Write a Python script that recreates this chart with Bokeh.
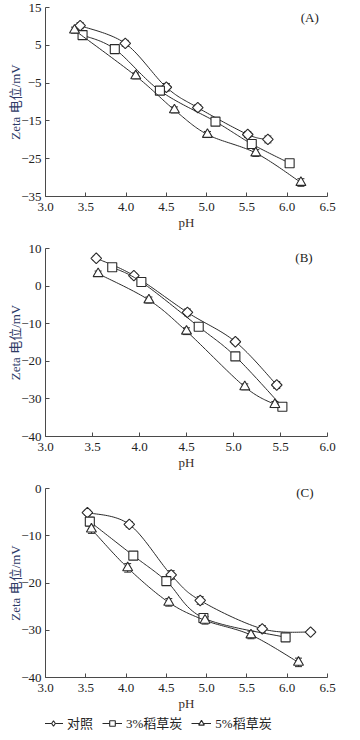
from bokeh.plotting import figure
from bokeh.layouts import column
from bokeh.models import (FixedTicker, Label, Legend, LegendItem, Whisker,
                          ColumnDataSource, TeeHead, Range1d, PrintfTickFormatter)
from bokeh.embed import file_html
from bokeh.resources import INLINE

# ---------------- data ----------------
series_names = ["对照", "3%稻草炭", "5%稻草炭"]
panel_tags = ["(A)", "(B)", "(C)"]

A_ctrl_x = [3.43, 3.99, 4.50, 4.89, 5.51, 5.76]
A_ctrl_y = [10.2, 5.5, -6.1, -11.5, -18.6, -19.9]
A_ctrl_e = [0.8, 0.8, 1.0, 0.8, 0.8, 0.9]
A_3_x = [3.46, 3.86, 4.42, 5.11, 5.56, 6.03]
A_3_y = [7.7, 4.0, -7.0, -15.2, -21.1, -26.2]
A_3_e = [0.6, 0.6, 0.8, 0.8, 1.0, 0.7]
A_5_x = [3.36, 4.12, 4.60, 5.01, 5.61, 6.17]
A_5_y = [9.0, -3.1, -12.1, -18.6, -23.5, -31.3]
A_5_e = [0.8, 0.8, 0.8, 0.8, 0.9, 1.0]

B_ctrl_x = [3.54, 3.94, 4.51, 5.02, 5.46]
B_ctrl_y = [7.4, 2.8, -7.0, -14.8, -26.3]
B_ctrl_e = [0.6, 0.6, 0.9, 0.7, 0.9]
B_3_x = [3.71, 4.02, 4.63, 5.02, 5.52]
B_3_y = [5.0, 1.1, -10.8, -18.7, -32.1]
B_3_e = [0.6, 0.8, 0.8, 0.8, 0.7]
B_5_x = [3.56, 4.10, 4.50, 5.12, 5.44]
B_5_y = [3.3, -3.7, -12.0, -26.8, -31.5]
B_5_e = [0.7, 0.8, 0.9, 0.8, 0.8]

C_ctrl_x = [3.52, 4.04, 4.56, 4.92, 5.69, 6.29]
C_ctrl_y = [-5.1, -7.6, -18.3, -23.7, -29.7, -30.4]
C_ctrl_e = [0.5, 0.6, 0.9, 0.8, 0.7, 0.5]
C_3_x = [3.55, 4.09, 4.50, 4.96, 5.98]
C_3_y = [-7.0, -14.2, -19.6, -27.4, -31.5]
C_3_e = [0.9, 0.7, 0.8, 0.8, 0.6]
C_5_x = [3.57, 4.02, 4.53, 4.98, 5.55, 6.14]
C_5_y = [-8.6, -16.8, -24.1, -27.9, -31.0, -36.8]
C_5_e = [0.9, 0.9, 0.8, 0.8, 0.8, 0.9]

x_ticks_A = [3.0, 3.5, 4.0, 4.5, 5.0, 5.5, 6.0, 6.5]
x_ticks_B = [3.0, 3.5, 4.0, 4.5, 5.0, 5.5, 6.0]
x_ticks_C = [3.0, 3.5, 4.0, 4.5, 5.0, 5.5, 6.0, 6.5]
y_ticks_A = [15, 5, -5, -15, -25, -35]
y_labels_A = ["15", "5", "\u22125", "\u221215", "\u221225", "\u221235"]
y_ticks_B = [10, 0, -10, -20, -30, -40]
y_labels_B = ["10", "0", "\u221210", "\u221220", "\u221230", "\u221240"]
y_ticks_C = [0, -10, -20, -30, -40]
y_labels_C = ["0", "\u221210", "\u221220", "\u221230", "\u221240"]

# ---------------- style ----------------
SERIF = "Liberation Serif"
CJK = "Liberation Serif, Noto Sans CJK SC"
INK = "#2a2a2a"
AX = "#4a4a4a"
LABEL_COL = "#2e3a66"
markers = ["square", "square", "triangle"]      # control = square turned 45 deg (diamond)
mangles = [0.785398, 0.0, 0.0]
msizes = [7.5, 9, 10]
legend_markers = ["diamond", "square", "triangle"]
legend_sizes = [12, 9, 10]


def smooth(xs, ys, xr, yr, n=24):
    """Catmull-Rom curve through the data points (in normalized space)."""
    sx = [(x - xr[0]) / (xr[1] - xr[0]) for x in xs]
    sy = [(y - yr[0]) / (yr[1] - yr[0]) for y in ys]
    pts = list(zip(sx, sy))
    P = [pts[0]] + pts + [pts[-1]]
    ox, oy = [], []
    for i in range(1, len(P) - 2):
        p0, p1, p2, p3 = P[i - 1], P[i], P[i + 1], P[i + 2]
        for k in range(n):
            t = k / n
            t2, t3 = t * t, t * t * t
            cx = 0.5 * ((2 * p1[0]) + (-p0[0] + p2[0]) * t +
                        (2 * p0[0] - 5 * p1[0] + 4 * p2[0] - p3[0]) * t2 +
                        (-p0[0] + 3 * p1[0] - 3 * p2[0] + p3[0]) * t3)
            cy = 0.5 * ((2 * p1[1]) + (-p0[1] + p2[1]) * t +
                        (2 * p0[1] - 5 * p1[1] + 4 * p2[1] - p3[1]) * t2 +
                        (-p0[1] + 3 * p1[1] - 3 * p2[1] + p3[1]) * t3)
            ox.append(cx)
            oy.append(cy)
    ox.append(pts[-1][0])
    oy.append(pts[-1][1])
    return ([xr[0] + v * (xr[1] - xr[0]) for v in ox],
            [yr[0] + v * (yr[1] - yr[0]) for v in oy])


def make_panel(height, btop, xr, yr, xt, yt, ylab, series, tag, tagpos):
    p = figure(width=344, height=height, x_range=Range1d(*xr), y_range=Range1d(*yr),
               output_backend="svg", toolbar_location=None,
               min_border_left=45, min_border_right=17,
               min_border_top=btop, min_border_bottom=0)
    p.outline_line_color = None
    p.xgrid.visible = False
    p.ygrid.visible = False
    p.background_fill_color = "white"
    p.border_fill_color = "white"
    for ax in (p.xaxis[0], p.yaxis[0]):
        ax.axis_line_color = AX
        ax.major_tick_line_color = AX
        ax.major_tick_in = 4
        ax.major_tick_out = 0
        ax.minor_tick_line_color = None
        ax.major_label_text_font = SERIF
        ax.major_label_text_font_size = "13px"
        ax.major_label_text_color = "#222222"
        ax.axis_label_text_font_style = "normal"
    p.xaxis.ticker = FixedTicker(ticks=xt)
    p.xaxis.formatter = PrintfTickFormatter(format="%.1f")
    p.xaxis.major_label_standoff = 6
    p.xaxis.axis_label = "pH"
    p.xaxis.axis_label_text_font = SERIF
    p.xaxis.axis_label_text_font_size = "13px"
    p.xaxis.axis_label_text_color = "#3a2e28"
    p.xaxis.axis_label_standoff = 1
    p.yaxis.ticker = FixedTicker(ticks=yt)
    p.yaxis.major_label_overrides = {t: l for t, l in zip(yt, ylab)}
    p.yaxis.major_label_standoff = 4
    p.yaxis.axis_label = "Zeta 电位/mV"
    p.yaxis.axis_label_text_font = CJK
    p.yaxis.axis_label_text_font_size = "13px"
    p.yaxis.axis_label_text_color = LABEL_COL
    p.yaxis.axis_label_standoff = -5

    for (xs, ys, es), mk, ma, ms in zip(series, markers, mangles, msizes):
        cx, cy = smooth(xs, ys, xr, yr)
        p.line(cx, cy, line_color=INK, line_width=1)
        src = ColumnDataSource(dict(x=xs, y=ys,
                                    lo=[y - e for y, e in zip(ys, es)],
                                    hi=[y + e for y, e in zip(ys, es)]))
        w = Whisker(source=src, base="x", lower="lo", upper="hi",
                    line_color=INK, line_width=1,
                    upper_head=TeeHead(size=7, line_color=INK, line_width=1),
                    lower_head=TeeHead(size=7, line_color=INK, line_width=1))
        p.add_layout(w)
        p.scatter("x", "y", source=src, marker=mk, size=ms, angle=ma,
                  fill_color="white", line_color=INK, line_width=1.1)
    p.add_layout(Label(x=tagpos[0], y=tagpos[1], text=tag, text_font=SERIF,
                       text_font_size="13px", text_color="#222222",
                       text_align="center", text_baseline="middle"))
    return p


pA = make_panel(232, 7, (3.0, 6.5), (-35, 15), x_ticks_A, y_ticks_A, y_labels_A,
                [(A_ctrl_x, A_ctrl_y, A_ctrl_e), (A_3_x, A_3_y, A_3_e), (A_5_x, A_5_y, A_5_e)],
                panel_tags[0], (6.28, 12.4))
pB = make_panel(240, 16, (3.0, 6.0), (-40, 10), x_ticks_B, y_ticks_B, y_labels_B,
                [(B_ctrl_x, B_ctrl_y, B_ctrl_e), (B_3_x, B_3_y, B_3_e), (B_5_x, B_5_y, B_5_e)],
                panel_tags[1], (5.75, 7.5))
pC = make_panel(241, 16, (3.0, 6.5), (-40, 0), x_ticks_C, y_ticks_C, y_labels_C,
                [(C_ctrl_x, C_ctrl_y, C_ctrl_e), (C_3_x, C_3_y, C_3_e), (C_5_x, C_5_y, C_5_e)],
                panel_tags[2], (6.22, -0.8))

# legend strip: a small axis-less figure; the key renderers use panel C's data,
# which lies outside this strip's ranges, so only the legend keys are visible
pL = figure(width=344, height=24, x_range=Range1d(0, 1), y_range=Range1d(0, 1),
            output_backend="svg", toolbar_location=None,
            min_border_left=45, min_border_right=17, min_border_top=0, min_border_bottom=0)
pL.axis.visible = False
pL.grid.visible = False
pL.outline_line_color = None
items = []
for name, (xs, ys), mk, ms in zip(series_names,
                                  [(C_ctrl_x, C_ctrl_y), (C_3_x, C_3_y), (C_5_x, C_5_y)],
                                  legend_markers, legend_sizes):
    lr = pL.line(x=xs, y=ys, line_color=INK, line_width=1)
    sr = pL.scatter(x=xs, y=ys, marker=mk, size=ms, fill_color="white",
                    line_color=INK, line_width=1.1)
    items.append(LegendItem(label=name, renderers=[lr, sr]))
legend = Legend(items=items, orientation="horizontal", location=(-2, 5),
                label_text_font=CJK, label_text_font_size="13px", label_text_color="#222222",
                glyph_width=20, glyph_height=14, label_height=14, label_standoff=4,
                spacing=9, padding=0, margin=0,
                border_line_color=None, background_fill_alpha=0)
pL.add_layout(legend, "center")

layout = column(pA, pB, pC, pL, spacing=0)
open("out.html", "w").write(file_html(layout, INLINE))
